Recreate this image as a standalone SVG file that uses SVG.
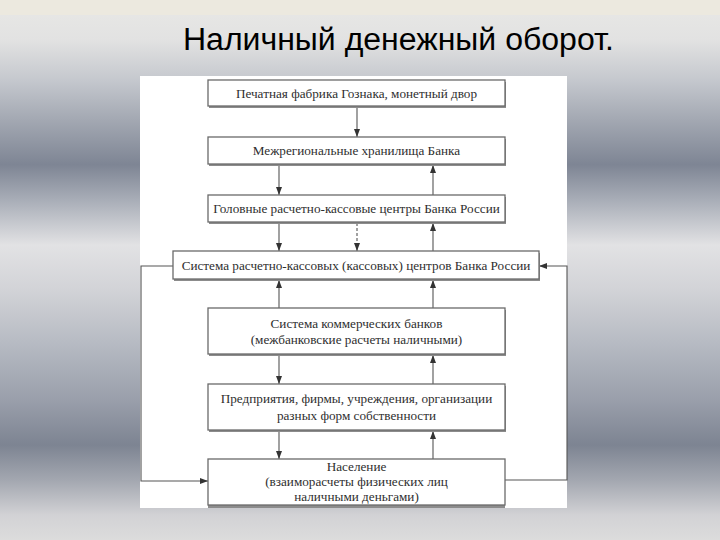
<svg xmlns="http://www.w3.org/2000/svg" width="720" height="540" viewBox="0 0 720 540">
<style>
.box{fill:#fff;stroke:#6a6a6a;stroke-width:1.3}
.sh{fill:#8c8c8c}
.t{font-family:"Liberation Serif","Times New Roman",serif;font-size:13.2px;fill:#2e2e2e;text-anchor:middle}
.c{fill:none;stroke:#555;stroke-width:1.1}
.title{font-family:"Liberation Sans",Arial,sans-serif;font-size:31px;fill:#000}
</style>
<defs>
<linearGradient id="bg" x1="0" y1="0" x2="0" y2="1">
<stop offset="0" stop-color="#e9e9e6"/>
<stop offset="0.074" stop-color="#e2e2e2"/>
<stop offset="0.148" stop-color="#c5c8ce"/>
<stop offset="0.22" stop-color="#a4a9b3"/>
<stop offset="0.305" stop-color="#7e8594"/>
<stop offset="0.37" stop-color="#a8adb7"/>
<stop offset="0.454" stop-color="#e2e2e4"/>
<stop offset="0.537" stop-color="#d2d3d7"/>
<stop offset="0.63" stop-color="#b8bcc4"/>
<stop offset="0.74" stop-color="#9a9fab"/>
<stop offset="0.824" stop-color="#7d8492"/>
<stop offset="0.889" stop-color="#a3a7b0"/>
<stop offset="0.954" stop-color="#d2d2d5"/>
<stop offset="1" stop-color="#dcdcdc"/>
</linearGradient>
<marker id="ah" markerUnits="userSpaceOnUse" markerWidth="8" markerHeight="6" refX="8" refY="3" orient="auto">
<path d="M0,0 L8,3 L0,6 z" fill="#333"/>
</marker>
</defs>
<rect x="0" y="0" width="720" height="540" fill="url(#bg)"/>
<rect x="0" y="0" width="720" height="15" fill="#ece9df"/>
<text class="title" x="183" y="50" textLength="431" lengthAdjust="spacingAndGlyphs">Наличный денежный оборот.</text>
<rect x="140" y="76" width="427" height="432" fill="#fff"/>

<g id="connectors">
<line class="c" x1="357" y1="107" x2="357" y2="137" marker-end="url(#ah)"/>
<line class="c" x1="279" y1="165" x2="279" y2="195" marker-end="url(#ah)"/>
<line class="c" x1="433" y1="195" x2="433" y2="165" marker-end="url(#ah)"/>
<line class="c" x1="279" y1="223" x2="279" y2="251" marker-end="url(#ah)"/>
<line class="c" x1="357" y1="223" x2="357" y2="251" stroke-dasharray="3 2" marker-end="url(#ah)"/>
<line class="c" x1="433" y1="251" x2="433" y2="223" marker-end="url(#ah)"/>
<line class="c" x1="279" y1="308" x2="279" y2="280" marker-end="url(#ah)"/>
<line class="c" x1="433" y1="308" x2="433" y2="280" marker-end="url(#ah)"/>
<line class="c" x1="279" y1="355" x2="279" y2="384" marker-end="url(#ah)"/>
<line class="c" x1="433" y1="384" x2="433" y2="355" marker-end="url(#ah)"/>
<line class="c" x1="279" y1="431" x2="279" y2="459" marker-end="url(#ah)"/>
<line class="c" x1="433" y1="459" x2="433" y2="431" marker-end="url(#ah)"/>
<polyline class="c" points="173,266 141,266 141,481 208,481" marker-end="url(#ah)"/>
<polyline class="c" points="505,480 567,480 567,266 539,266" marker-end="url(#ah)"/>
</g>

<g id="n1">
<rect class="sh" x="209" y="82" width="297" height="26"/>
<rect class="box" x="208" y="80" width="297" height="26"/>
<text class="t" x="356.5" y="97.5">Печатная фабрика Гознака, монетный двор</text>
</g>
<g id="n2">
<rect class="sh" x="209" y="139" width="297" height="27"/>
<rect class="box" x="208" y="137" width="297" height="27"/>
<text class="t" x="356.5" y="155">Межрегиональные хранилища Банка</text>
</g>
<g id="n3">
<rect class="sh" x="209" y="197" width="297" height="27"/>
<rect class="box" x="208" y="195" width="297" height="27"/>
<text class="t" x="356.5" y="213">Головные расчетно-кассовые центры Банка России</text>
</g>
<g id="n4">
<rect class="sh" x="174" y="253" width="366" height="28"/>
<rect class="box" x="173" y="251" width="366" height="28"/>
<text class="t" x="356" y="270">Система расчетно-кассовых (кассовых) центров Банка России</text>
</g>
<g id="n5">
<rect class="sh" x="209" y="310" width="297" height="46"/>
<rect class="box" x="208" y="308" width="297" height="46"/>
<text class="t" x="356.5" y="328">Система коммерческих банков</text>
<text class="t" x="356.5" y="343.5">(межбанковские расчеты наличными)</text>
</g>
<g id="n6">
<rect class="sh" x="209" y="386" width="297" height="46"/>
<rect class="box" x="208" y="384" width="297" height="46"/>
<text class="t" x="356.5" y="403">Предприятия, фирмы, учреждения, организации</text>
<text class="t" x="356.5" y="420">разных форм собственности</text>
</g>
<g id="n7">
<rect class="sh" x="208" y="461" width="297" height="47"/>
<rect class="box" x="208" y="459" width="297" height="46"/>
<text class="t" x="356.5" y="471">Население</text>
<text class="t" x="356.5" y="486">(взаиморасчеты физических лиц</text>
<text class="t" x="356.5" y="501">наличными деньгами)</text>
</g>
</svg>
